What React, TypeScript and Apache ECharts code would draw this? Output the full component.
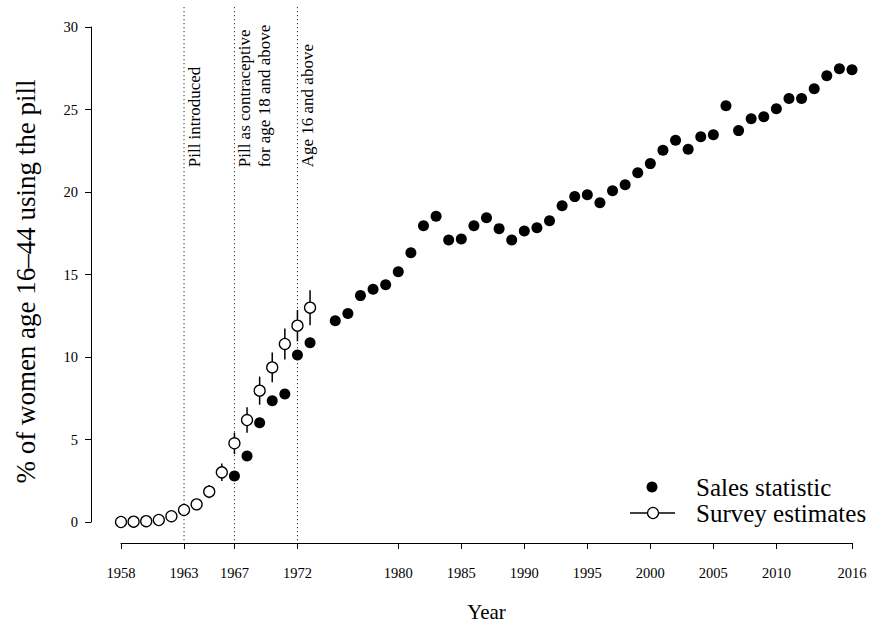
import React, { useEffect, useRef } from "react";
import * as echarts from "echarts";

// Survey estimates (open circles with error bars)
const surveyYears = [1958, 1959, 1960, 1961, 1962, 1963, 1964, 1965, 1966, 1967, 1968, 1969, 1970, 1971, 1972, 1973];
const surveyValues = [0.0, 0.02, 0.05, 0.12, 0.35, 0.73, 1.07, 1.84, 3.01, 4.77, 6.18, 7.96, 9.37, 10.79, 11.9, 12.99];
const surveyErrors = [0.05, 0.05, 0.05, 0.05, 0.08, 0.12, 0.25, 0.4, 0.53, 0.65, 0.77, 0.85, 0.9, 0.94, 0.95, 1.06];

// Sales statistic (filled circles)
const salesYears = [
  1967, 1968, 1969, 1970, 1971, 1972, 1973,
  1975, 1976, 1977, 1978, 1979, 1980, 1981, 1982, 1983, 1984, 1985, 1986, 1987, 1988, 1989,
  1990, 1991, 1992, 1993, 1994, 1995, 1996, 1997, 1998, 1999, 2000, 2001, 2002, 2003, 2004,
  2005, 2006, 2007, 2008, 2009, 2010, 2011, 2012, 2013, 2014, 2015, 2016,
];
const salesValues = [
  2.79, 4.0, 6.02, 7.35, 7.76, 10.12, 10.87,
  12.2, 12.63, 13.72, 14.1, 14.38, 15.17, 16.32, 17.96, 18.53, 17.09, 17.15, 17.96, 18.44, 17.78, 17.09,
  17.64, 17.84, 18.26, 19.17, 19.72, 19.84, 19.35, 20.08, 20.44, 21.17, 21.72, 22.53, 23.13, 22.59, 23.35,
  23.47, 25.23, 23.72, 24.44, 24.56, 25.05, 25.66, 25.66, 26.26, 27.05, 27.47, 27.41,
];

// Policy milestones
const eventYears = [1963, 1967, 1972];
const eventLabels = ["Pill introduced", "Pill as contraceptive\nfor age 18 and above", "Age 16 and above"];
const eventLabelBase = 21.5;

// Axis ticks
const xTickYears = [1958, 1963, 1967, 1972, 1980, 1985, 1990, 1995, 2000, 2005, 2010, 2016];
const yMin = 0;
const yMax = 30;
const yStep = 5;
const yPad = (yMax - yMin) * 0.04;

const SERIF = '"Liberation Serif", "Times New Roman", serif';

export default function App() {
  const ref = useRef<HTMLDivElement>(null);

  useEffect(() => {
    if (!ref.current) return;
    const chart = echarts.init(ref.current, null, { renderer: "svg" });

    const option: any = {
      animation: false,
      backgroundColor: "#ffffff",
      grid: { left: 121, right: 18, top: 27, bottom: 104, containLabel: false, outerBoundsMode: "none" },
      xAxis: {
        type: "value",
        min: 1958,
        max: 2016,
        offset: 21,
        axisLine: { show: true, onZero: false, lineStyle: { color: "#000", width: 1 } },
        axisTick: { show: true, length: 6, customValues: xTickYears, lineStyle: { color: "#000", width: 1 } },
        axisLabel: {
          customValues: xTickYears,
          formatter: (v: number) => String(v),
          margin: 22,
          fontFamily: SERIF,
          fontSize: 14.5,
          color: "#000",
        },
        splitLine: { show: false },
        name: "Year",
        nameLocation: "middle",
        nameGap: 58,
        nameTextStyle: { fontFamily: SERIF, fontSize: 21, color: "#000" },
      },
      yAxis: {
        type: "value",
        min: yMin,
        max: yMax,
        interval: yStep,
        offset: 30,
        axisLine: { show: true, onZero: false, lineStyle: { color: "#000", width: 1 } },
        axisTick: { show: true, length: 6, lineStyle: { color: "#000", width: 1 } },
        axisLabel: { margin: 13, fontFamily: SERIF, fontSize: 14.5, color: "#000" },
        splitLine: { show: false },
        name: "% of women age 16\u201344 using the pill",
        nameLocation: "middle",
        nameGap: 52,
        nameTextStyle: { fontFamily: SERIF, fontSize: 27, color: "#000", padding: [0, 14, 0, 0] },
      },
      series: [
        {
          // dotted milestone lines with rotated captions
          type: "custom",
          silent: true,
          clip: false,
          z: 1,
          data: eventYears.map((y, i) => [y, i]),
          renderItem: (params: any, api: any) => {
            const x = api.value(0);
            const idx = api.value(1);
            const top = api.coord([x, yMax + yPad]);
            const bot = api.coord([x, yMin - yPad]);
            const anchor = api.coord([x, eventLabelBase]);
            return {
              type: "group",
              children: [
                {
                  type: "line",
                  shape: { x1: top[0], y1: top[1], x2: bot[0], y2: bot[1] },
                  style: { stroke: "#000", lineWidth: 1, lineDash: [1, 3] },
                },
                {
                  type: "text",
                  x: anchor[0],
                  y: anchor[1],
                  rotation: Math.PI / 2,
                  style: {
                    text: eventLabels[idx],
                    fill: "#000",
                    fontFamily: SERIF,
                    fontSize: 17,
                    lineHeight: 20,
                    align: "left",
                    verticalAlign: "top",
                    textAlign: "left",
                    textVerticalAlign: "top",
                  },
                },
              ],
            };
          },
        },
        {
          // survey error bars
          type: "custom",
          silent: true,
          clip: false,
          z: 2,
          encode: { x: 0, y: [1, 2] },
          data: surveyYears.map((y, i) => [y, surveyValues[i] - surveyErrors[i], surveyValues[i] + surveyErrors[i]]),
          renderItem: (params: any, api: any) => {
            const x = api.value(0);
            const p1 = api.coord([x, api.value(1)]);
            const p2 = api.coord([x, api.value(2)]);
            return {
              type: "line",
              shape: { x1: p1[0], y1: p1[1], x2: p2[0], y2: p2[1] },
              style: { stroke: "#000", lineWidth: 1.5 },
            };
          },
        },
        {
          name: "Survey estimates",
          type: "scatter",
          silent: true,
          clip: false,
          z: 3,
          symbol: "circle",
          symbolSize: 11,
          itemStyle: { color: "#fff", borderColor: "#000", borderWidth: 1.3, opacity: 1 },
          data: surveyYears.map((y, i) => [y, surveyValues[i]]),
        },
        {
          name: "Sales statistic",
          type: "scatter",
          silent: true,
          clip: false,
          z: 4,
          symbol: "circle",
          symbolSize: 11,
          itemStyle: { color: "#000", opacity: 1 },
          data: salesYears.map((y, i) => [y, salesValues[i]]),
        },
      ],
      graphic: [
        { type: "circle", shape: { cx: 652, cy: 487, r: 5.5 }, style: { fill: "#000" } },
        {
          type: "text",
          x: 696,
          y: 487,
          style: {
            text: "Sales statistic",
            fill: "#000",
            fontFamily: SERIF,
            fontSize: 25,
            verticalAlign: "middle",
            textVerticalAlign: "middle",
          },
        },
        { type: "line", shape: { x1: 630, y1: 513, x2: 675, y2: 513 }, style: { stroke: "#000", lineWidth: 1.3 } },
        { type: "circle", shape: { cx: 653, cy: 513, r: 5.5 }, style: { fill: "#fff", stroke: "#000", lineWidth: 1.3 } },
        {
          type: "text",
          x: 696,
          y: 513,
          style: {
            text: "Survey estimates",
            fill: "#000",
            fontFamily: SERIF,
            fontSize: 25,
            verticalAlign: "middle",
            textVerticalAlign: "middle",
          },
        },
      ],
    };

    chart.setOption(option);
    return () => chart.dispose();
  }, []);

  return (
    <div
      ref={ref}
      style={{ position: "fixed", left: 0, top: 0, width: 870, height: 626, background: "#fff" }}
    />
  );
}
